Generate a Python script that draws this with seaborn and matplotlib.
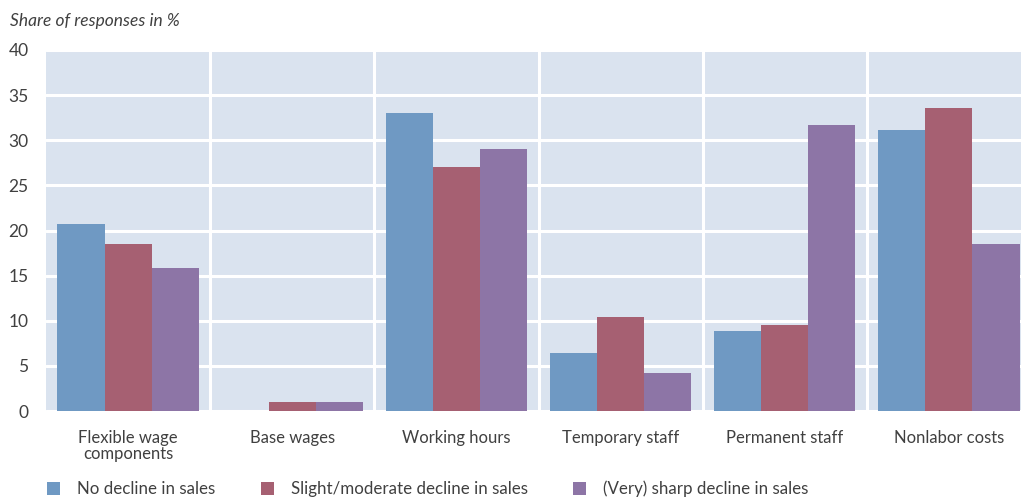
import matplotlib
matplotlib.use("Agg")
import matplotlib.pyplot as plt
import seaborn as sns
import pandas as pd
from matplotlib.ticker import FixedLocator

categories = ["Flexible wage\ncomponents", "Base wages", "Working hours",
              "Temporary staff", "Permanent staff", "Nonlabor costs"]
series = ["No decline in sales", "Slight/moderate decline in sales",
          "(Very) sharp decline in sales"]
no_decline = [20.7, 0.0, 33.0, 6.4, 8.9, 31.1]
moderate_decline = [18.5, 1.0, 27.0, 10.4, 9.5, 33.6]
sharp_decline = [15.8, 1.0, 29.0, 4.2, 31.7, 18.5]
y_ticks = [0, 5, 10, 15, 20, 25, 30, 35, 40]

colors = ["#6f99c3", "#a66072", "#8d75a6"]
bg = "#dae3ef"
text_color = "#404040"

rows = []
for name, vals in zip(series, [no_decline, moderate_decline, sharp_decline]):
    for cat, v in zip(categories, vals):
        rows.append({"category": cat, "group": name, "value": v})
df = pd.DataFrame(rows)

sns.set_theme(style="white")
plt.rcParams["font.family"] = ["Lato", "DejaVu Sans"]

W, H = 1021, 499
fig = plt.figure(figsize=(W / 100, H / 100), dpi=100)
left, right, top, bottom = 46, 1031, 50, 411
ax = fig.add_axes([left / W, 1 - bottom / H, (right - left) / W, (bottom - top) / H])
ax.set_facecolor(bg)

sns.barplot(data=df, x="category", y="value", hue="group", order=categories,
            hue_order=series, palette=colors, width=0.86, gap=0,
            linewidth=0, saturation=1, errorbar=None, ax=ax, zorder=3)

ax.set_xlim(-0.5, len(categories) - 0.5)
ax.set_ylim(0, 40)
ax.set_yticks(y_ticks)
ax.xaxis.set_minor_locator(FixedLocator([i + 0.5 for i in range(len(categories) - 1)]))
ax.grid(True, axis="y", which="major", color="white", linewidth=2.2, zorder=1)
ax.grid(True, axis="x", which="minor", color="white", linewidth=2.2, zorder=1)
ax.grid(False, axis="x", which="major")
ax.set_axisbelow(True)
for s in ax.spines.values():
    s.set_visible(False)

ax.tick_params(axis="both", which="both", length=0)
ax.tick_params(axis="y", pad=12.5, labelsize=12.5, labelcolor=text_color)
ax.tick_params(axis="x", pad=14, labelsize=12, labelcolor=text_color)
for lbl in ax.get_xticklabels():
    lbl.set_verticalalignment("top")
    lbl.set_linespacing(1.0)
ax.set_xlabel("")
ax.set_ylabel("")

fig.text(10 / W, 1 - 21 / H, "Share of responses in %", fontsize=12.5,
         style="italic", color=text_color, ha="left", va="center")

handles, labels = ax.get_legend_handles_labels()
ax.legend_.remove()
fig.legend(handles, labels, loc="center left", bbox_to_anchor=(32 / W, 1 - 489 / H),
           ncol=3, frameon=False, fontsize=12.2, handlelength=0.75, handleheight=0.75,
           handletextpad=1.0, columnspacing=2.7, labelcolor=text_color)

fig.savefig("out.png", dpi=100)
